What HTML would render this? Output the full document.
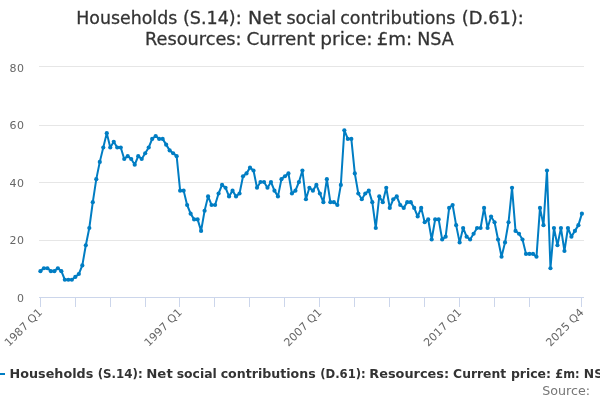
<!DOCTYPE html>
<html><head><meta charset="utf-8"><title>Chart</title>
<style>
html,body{margin:0;padding:0;background:#fff;}
body{width:600px;height:400px;overflow:hidden;}
svg{display:block;font-family:"DejaVu Sans","Liberation Sans",sans-serif;}
</style></head><body>
<svg width="600" height="400" viewBox="0 0 600 400">
<rect x="0" y="0" width="600" height="400" fill="#ffffff"/>
<g stroke="#e6e6e6" stroke-width="1" fill="none"><path d="M 39 66.5 L 584 66.5"/><path d="M 39 125.5 L 584 125.5"/><path d="M 39 182.5 L 584 182.5"/><path d="M 39 240.5 L 584 240.5"/></g>
<g stroke="#ccd6eb" stroke-width="1" fill="none"><path d="M 39 297.5 L 584 297.5"/><path d="M 40.5 297 L 40.5 307"/><path d="M 75.5 297 L 75.5 307"/><path d="M 110.5 297 L 110.5 307"/><path d="M 145.5 297 L 145.5 307"/><path d="M 179.5 297 L 179.5 307"/><path d="M 214.5 297 L 214.5 307"/><path d="M 249.5 297 L 249.5 307"/><path d="M 284.5 297 L 284.5 307"/><path d="M 319.5 297 L 319.5 307"/><path d="M 354.5 297 L 354.5 307"/><path d="M 389.5 297 L 389.5 307"/><path d="M 424.5 297 L 424.5 307"/><path d="M 459.5 297 L 459.5 307"/><path d="M 494.5 297 L 494.5 307"/><path d="M 529.5 297 L 529.5 307"/><path d="M 581.5 297 L 581.5 307"/></g>
<path d="M 40.397 271.125 L 43.890 268.250 L 47.384 268.250 L 50.878 271.125 L 54.371 271.125 L 57.865 268.250 L 61.358 271.125 L 64.852 279.750 L 68.346 279.750 L 71.839 279.750 L 75.333 276.875 L 78.826 274.000 L 82.320 265.375 L 85.813 245.250 L 89.307 228.000 L 92.801 202.125 L 96.294 179.125 L 99.788 161.875 L 103.281 147.500 L 106.775 133.125 L 110.269 147.500 L 113.762 141.750 L 117.256 147.500 L 120.749 147.500 L 124.243 159.000 L 127.737 156.125 L 131.230 159.000 L 134.724 164.750 L 138.217 156.125 L 141.711 159.000 L 145.204 153.250 L 148.698 147.500 L 152.192 138.875 L 155.685 136.000 L 159.179 138.875 L 162.672 138.875 L 166.166 144.625 L 169.660 150.375 L 173.153 153.250 L 176.647 156.125 L 180.140 190.625 L 183.634 190.625 L 187.128 205.000 L 190.621 213.625 L 194.115 219.375 L 197.608 219.375 L 201.102 230.875 L 204.596 210.750 L 208.089 196.375 L 211.583 205.000 L 215.076 205.000 L 218.570 193.500 L 222.063 184.875 L 225.557 187.750 L 229.051 196.375 L 232.544 190.625 L 236.038 196.375 L 239.531 193.500 L 243.025 176.250 L 246.519 173.375 L 250.012 167.625 L 253.506 170.500 L 256.999 187.750 L 260.493 182.000 L 263.987 182.000 L 267.480 187.750 L 270.974 182.000 L 274.467 190.625 L 277.961 196.375 L 281.454 179.125 L 284.948 176.250 L 288.442 173.375 L 291.935 193.500 L 295.429 190.625 L 298.922 182.000 L 302.416 170.500 L 305.910 199.250 L 309.403 187.750 L 312.897 190.625 L 316.390 184.875 L 319.884 193.500 L 323.378 202.125 L 326.871 179.125 L 330.365 202.125 L 333.858 202.125 L 337.352 205.000 L 340.846 184.875 L 344.339 130.250 L 347.833 138.875 L 351.326 138.875 L 354.820 173.375 L 358.313 193.500 L 361.807 199.250 L 365.301 193.500 L 368.794 190.625 L 372.288 202.125 L 375.781 228.000 L 379.275 196.375 L 382.769 202.125 L 386.262 187.750 L 389.756 207.875 L 393.249 199.250 L 396.743 196.375 L 400.237 205.000 L 403.730 207.875 L 407.224 202.125 L 410.717 202.125 L 414.211 207.875 L 417.704 216.500 L 421.198 207.875 L 424.692 222.250 L 428.185 219.375 L 431.679 239.500 L 435.172 219.375 L 438.666 219.375 L 442.160 239.500 L 445.653 236.625 L 449.147 207.875 L 452.640 205.000 L 456.134 225.125 L 459.628 242.375 L 463.121 228.000 L 466.615 236.625 L 470.108 239.500 L 473.602 233.750 L 477.096 228.000 L 480.589 228.000 L 484.083 207.875 L 487.576 228.000 L 491.070 216.500 L 494.563 222.250 L 498.057 239.500 L 501.551 256.750 L 505.044 242.375 L 508.538 222.250 L 512.031 187.750 L 515.525 230.875 L 519.019 233.750 L 522.512 239.500 L 526.006 253.875 L 529.499 253.875 L 532.993 253.875 L 536.487 256.750 L 539.980 207.875 L 543.474 225.125 L 546.967 170.500 L 550.461 268.250 L 553.954 228.000 L 557.448 245.250 L 560.942 228.000 L 564.435 251.000 L 567.929 228.000 L 571.422 236.625 L 574.916 230.875 L 578.410 225.125 L 581.903 213.625" fill="none" stroke="#007dc3" stroke-width="2" stroke-linejoin="round" stroke-linecap="round"/>
<g fill="#007dc3"><circle cx="40.397" cy="271.125" r="2.1"/><circle cx="43.890" cy="268.250" r="2.1"/><circle cx="47.384" cy="268.250" r="2.1"/><circle cx="50.878" cy="271.125" r="2.1"/><circle cx="54.371" cy="271.125" r="2.1"/><circle cx="57.865" cy="268.250" r="2.1"/><circle cx="61.358" cy="271.125" r="2.1"/><circle cx="64.852" cy="279.750" r="2.1"/><circle cx="68.346" cy="279.750" r="2.1"/><circle cx="71.839" cy="279.750" r="2.1"/><circle cx="75.333" cy="276.875" r="2.1"/><circle cx="78.826" cy="274.000" r="2.1"/><circle cx="82.320" cy="265.375" r="2.1"/><circle cx="85.813" cy="245.250" r="2.1"/><circle cx="89.307" cy="228.000" r="2.1"/><circle cx="92.801" cy="202.125" r="2.1"/><circle cx="96.294" cy="179.125" r="2.1"/><circle cx="99.788" cy="161.875" r="2.1"/><circle cx="103.281" cy="147.500" r="2.1"/><circle cx="106.775" cy="133.125" r="2.1"/><circle cx="110.269" cy="147.500" r="2.1"/><circle cx="113.762" cy="141.750" r="2.1"/><circle cx="117.256" cy="147.500" r="2.1"/><circle cx="120.749" cy="147.500" r="2.1"/><circle cx="124.243" cy="159.000" r="2.1"/><circle cx="127.737" cy="156.125" r="2.1"/><circle cx="131.230" cy="159.000" r="2.1"/><circle cx="134.724" cy="164.750" r="2.1"/><circle cx="138.217" cy="156.125" r="2.1"/><circle cx="141.711" cy="159.000" r="2.1"/><circle cx="145.204" cy="153.250" r="2.1"/><circle cx="148.698" cy="147.500" r="2.1"/><circle cx="152.192" cy="138.875" r="2.1"/><circle cx="155.685" cy="136.000" r="2.1"/><circle cx="159.179" cy="138.875" r="2.1"/><circle cx="162.672" cy="138.875" r="2.1"/><circle cx="166.166" cy="144.625" r="2.1"/><circle cx="169.660" cy="150.375" r="2.1"/><circle cx="173.153" cy="153.250" r="2.1"/><circle cx="176.647" cy="156.125" r="2.1"/><circle cx="180.140" cy="190.625" r="2.1"/><circle cx="183.634" cy="190.625" r="2.1"/><circle cx="187.128" cy="205.000" r="2.1"/><circle cx="190.621" cy="213.625" r="2.1"/><circle cx="194.115" cy="219.375" r="2.1"/><circle cx="197.608" cy="219.375" r="2.1"/><circle cx="201.102" cy="230.875" r="2.1"/><circle cx="204.596" cy="210.750" r="2.1"/><circle cx="208.089" cy="196.375" r="2.1"/><circle cx="211.583" cy="205.000" r="2.1"/><circle cx="215.076" cy="205.000" r="2.1"/><circle cx="218.570" cy="193.500" r="2.1"/><circle cx="222.063" cy="184.875" r="2.1"/><circle cx="225.557" cy="187.750" r="2.1"/><circle cx="229.051" cy="196.375" r="2.1"/><circle cx="232.544" cy="190.625" r="2.1"/><circle cx="236.038" cy="196.375" r="2.1"/><circle cx="239.531" cy="193.500" r="2.1"/><circle cx="243.025" cy="176.250" r="2.1"/><circle cx="246.519" cy="173.375" r="2.1"/><circle cx="250.012" cy="167.625" r="2.1"/><circle cx="253.506" cy="170.500" r="2.1"/><circle cx="256.999" cy="187.750" r="2.1"/><circle cx="260.493" cy="182.000" r="2.1"/><circle cx="263.987" cy="182.000" r="2.1"/><circle cx="267.480" cy="187.750" r="2.1"/><circle cx="270.974" cy="182.000" r="2.1"/><circle cx="274.467" cy="190.625" r="2.1"/><circle cx="277.961" cy="196.375" r="2.1"/><circle cx="281.454" cy="179.125" r="2.1"/><circle cx="284.948" cy="176.250" r="2.1"/><circle cx="288.442" cy="173.375" r="2.1"/><circle cx="291.935" cy="193.500" r="2.1"/><circle cx="295.429" cy="190.625" r="2.1"/><circle cx="298.922" cy="182.000" r="2.1"/><circle cx="302.416" cy="170.500" r="2.1"/><circle cx="305.910" cy="199.250" r="2.1"/><circle cx="309.403" cy="187.750" r="2.1"/><circle cx="312.897" cy="190.625" r="2.1"/><circle cx="316.390" cy="184.875" r="2.1"/><circle cx="319.884" cy="193.500" r="2.1"/><circle cx="323.378" cy="202.125" r="2.1"/><circle cx="326.871" cy="179.125" r="2.1"/><circle cx="330.365" cy="202.125" r="2.1"/><circle cx="333.858" cy="202.125" r="2.1"/><circle cx="337.352" cy="205.000" r="2.1"/><circle cx="340.846" cy="184.875" r="2.1"/><circle cx="344.339" cy="130.250" r="2.1"/><circle cx="347.833" cy="138.875" r="2.1"/><circle cx="351.326" cy="138.875" r="2.1"/><circle cx="354.820" cy="173.375" r="2.1"/><circle cx="358.313" cy="193.500" r="2.1"/><circle cx="361.807" cy="199.250" r="2.1"/><circle cx="365.301" cy="193.500" r="2.1"/><circle cx="368.794" cy="190.625" r="2.1"/><circle cx="372.288" cy="202.125" r="2.1"/><circle cx="375.781" cy="228.000" r="2.1"/><circle cx="379.275" cy="196.375" r="2.1"/><circle cx="382.769" cy="202.125" r="2.1"/><circle cx="386.262" cy="187.750" r="2.1"/><circle cx="389.756" cy="207.875" r="2.1"/><circle cx="393.249" cy="199.250" r="2.1"/><circle cx="396.743" cy="196.375" r="2.1"/><circle cx="400.237" cy="205.000" r="2.1"/><circle cx="403.730" cy="207.875" r="2.1"/><circle cx="407.224" cy="202.125" r="2.1"/><circle cx="410.717" cy="202.125" r="2.1"/><circle cx="414.211" cy="207.875" r="2.1"/><circle cx="417.704" cy="216.500" r="2.1"/><circle cx="421.198" cy="207.875" r="2.1"/><circle cx="424.692" cy="222.250" r="2.1"/><circle cx="428.185" cy="219.375" r="2.1"/><circle cx="431.679" cy="239.500" r="2.1"/><circle cx="435.172" cy="219.375" r="2.1"/><circle cx="438.666" cy="219.375" r="2.1"/><circle cx="442.160" cy="239.500" r="2.1"/><circle cx="445.653" cy="236.625" r="2.1"/><circle cx="449.147" cy="207.875" r="2.1"/><circle cx="452.640" cy="205.000" r="2.1"/><circle cx="456.134" cy="225.125" r="2.1"/><circle cx="459.628" cy="242.375" r="2.1"/><circle cx="463.121" cy="228.000" r="2.1"/><circle cx="466.615" cy="236.625" r="2.1"/><circle cx="470.108" cy="239.500" r="2.1"/><circle cx="473.602" cy="233.750" r="2.1"/><circle cx="477.096" cy="228.000" r="2.1"/><circle cx="480.589" cy="228.000" r="2.1"/><circle cx="484.083" cy="207.875" r="2.1"/><circle cx="487.576" cy="228.000" r="2.1"/><circle cx="491.070" cy="216.500" r="2.1"/><circle cx="494.563" cy="222.250" r="2.1"/><circle cx="498.057" cy="239.500" r="2.1"/><circle cx="501.551" cy="256.750" r="2.1"/><circle cx="505.044" cy="242.375" r="2.1"/><circle cx="508.538" cy="222.250" r="2.1"/><circle cx="512.031" cy="187.750" r="2.1"/><circle cx="515.525" cy="230.875" r="2.1"/><circle cx="519.019" cy="233.750" r="2.1"/><circle cx="522.512" cy="239.500" r="2.1"/><circle cx="526.006" cy="253.875" r="2.1"/><circle cx="529.499" cy="253.875" r="2.1"/><circle cx="532.993" cy="253.875" r="2.1"/><circle cx="536.487" cy="256.750" r="2.1"/><circle cx="539.980" cy="207.875" r="2.1"/><circle cx="543.474" cy="225.125" r="2.1"/><circle cx="546.967" cy="170.500" r="2.1"/><circle cx="550.461" cy="268.250" r="2.1"/><circle cx="553.954" cy="228.000" r="2.1"/><circle cx="557.448" cy="245.250" r="2.1"/><circle cx="560.942" cy="228.000" r="2.1"/><circle cx="564.435" cy="251.000" r="2.1"/><circle cx="567.929" cy="228.000" r="2.1"/><circle cx="571.422" cy="236.625" r="2.1"/><circle cx="574.916" cy="230.875" r="2.1"/><circle cx="578.410" cy="225.125" r="2.1"/><circle cx="581.903" cy="213.625" r="2.1"/></g>
<g font-size="18px" fill="#333333" stroke="#333333" stroke-width="0.3"><text x="76" y="24"><tspan x="76.3" textLength="100.9" lengthAdjust="spacingAndGlyphs">Households</tspan> <tspan x="182.95" textLength="58.71" lengthAdjust="spacingAndGlyphs">(S.14):</tspan> <tspan x="248.14" textLength="33.25" lengthAdjust="spacingAndGlyphs">Net</tspan> <tspan x="286.42" textLength="49.8" lengthAdjust="spacingAndGlyphs">social</tspan> <tspan x="340.19" textLength="115.24" lengthAdjust="spacingAndGlyphs">contributions</tspan> <tspan x="461.83" textLength="61.9" lengthAdjust="spacingAndGlyphs">(D.61):</tspan></text><text x="145" y="45"><tspan x="145.01" textLength="96.5" lengthAdjust="spacingAndGlyphs">Resources:</tspan> <tspan x="246.42" textLength="68.7" lengthAdjust="spacingAndGlyphs">Current</tspan> <tspan x="320.31" textLength="52.32" lengthAdjust="spacingAndGlyphs">price:</tspan> <tspan x="376.73" textLength="35.39" lengthAdjust="spacingAndGlyphs">£m:</tspan> <tspan x="417.28" textLength="36.53" lengthAdjust="spacingAndGlyphs">NSA</tspan></text></g>
<g font-size="11px" fill="#666666" text-anchor="end"><text x="24" y="72" textLength="14.6" lengthAdjust="spacing">80</text><text x="24" y="129" textLength="14.6" lengthAdjust="spacing">60</text><text x="24" y="187" textLength="14.6" lengthAdjust="spacing">40</text><text x="24" y="244" textLength="14.6" lengthAdjust="spacing">20</text><text x="24" y="302">0</text></g>
<g font-size="11px" fill="#666666" text-anchor="end"><text x="43.05" y="313" transform="rotate(-45 43.05 313)" textLength="48.2" lengthAdjust="spacing">1987 Q1</text><text x="182.79" y="313" transform="rotate(-45 182.79 313)" textLength="48.2" lengthAdjust="spacing">1997 Q1</text><text x="322.53" y="313" transform="rotate(-45 322.53 313)" textLength="48.2" lengthAdjust="spacing">2007 Q1</text><text x="462.28" y="313" transform="rotate(-45 462.28 313)" textLength="48.2" lengthAdjust="spacing">2017 Q1</text><text x="584.55" y="313" transform="rotate(-45 584.55 313)" textLength="48.2" lengthAdjust="spacing">2025 Q4</text></g>
<path d="M -11 374 L 5 374" stroke="#007dc3" stroke-width="2" fill="none"/><text x="10" y="378" font-size="12px" font-weight="bold" fill="#333333"><tspan x="9.6" textLength="83.71" lengthAdjust="spacingAndGlyphs">Households</tspan> <tspan x="97.7" textLength="45.0" lengthAdjust="spacingAndGlyphs">(S.14):</tspan> <tspan x="146.25" textLength="26.49" lengthAdjust="spacingAndGlyphs">Net</tspan> <tspan x="176.74" textLength="40.03" lengthAdjust="spacingAndGlyphs">social</tspan> <tspan x="220.65" textLength="94.99" lengthAdjust="spacingAndGlyphs">contributions</tspan> <tspan x="320.22" textLength="45.56" lengthAdjust="spacingAndGlyphs">(D.61):</tspan> <tspan x="369.29" textLength="79.8" lengthAdjust="spacingAndGlyphs">Resources:</tspan> <tspan x="453.09" textLength="53.06" lengthAdjust="spacingAndGlyphs">Current</tspan> <tspan x="510.94" textLength="40.08" lengthAdjust="spacingAndGlyphs">price:</tspan> <tspan x="555.3" textLength="24.27" lengthAdjust="spacingAndGlyphs">£m:</tspan> <tspan x="583.87" textLength="28.82" lengthAdjust="spacingAndGlyphs">NSA</tspan></text>
<text x="541.6" y="394.5" font-size="12px" fill="#767676"><tspan x="542.24" textLength="47.83" lengthAdjust="spacingAndGlyphs">Source:</tspan></text>
</svg></body></html>
